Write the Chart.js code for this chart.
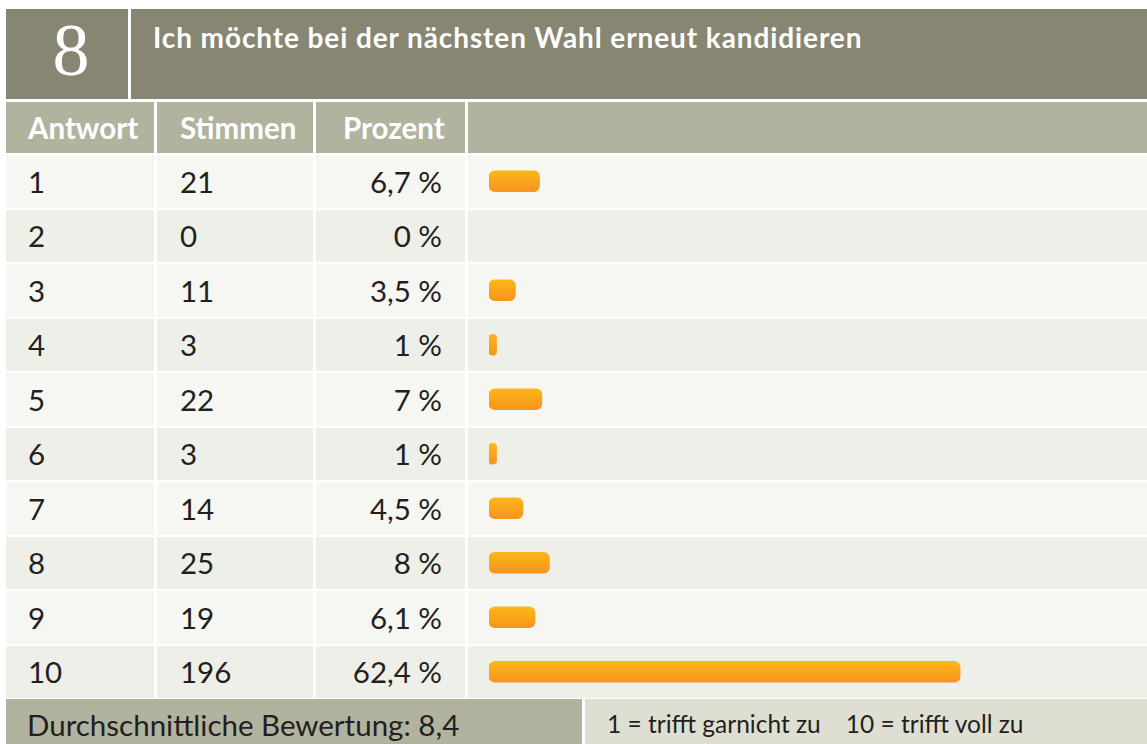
<!DOCTYPE html>
<html>
<head>
<meta charset="utf-8">
<script src="https://cdn.jsdelivr.net/npm/chart.js@4"></script>
<style>
  html, body { margin: 0; padding: 0; background: #ffffff; }
  body { width: 1147px; height: 744px; position: relative; overflow: hidden; font-family: "Lato", sans-serif; color: #231f20; }
  .box { position: absolute; box-sizing: border-box; white-space: pre; }
  .num { font-family: "Liberation Serif", "DejaVu Serif", serif; color: #fff; font-size: 74px; display: flex; align-items: center; justify-content: center; padding-left: 8px; padding-bottom: 8px; }
  .title { color: #fff; font-weight: bold; font-size: 28px; letter-spacing: 0.9px; padding-left: 22px; padding-top: 11px; }
  .hd { color: #fff; font-weight: bold; font-size: 29.5px; display: flex; align-items: center; }
  .cell { font-size: 29.5px; display: flex; align-items: center; }
  .foot { font-size: 29.5px; display: flex; align-items: center; }
  .foot2 { font-size: 24.5px; display: flex; align-items: center; }
  #chartWrap { position: absolute; left: 467px; top: 154px; width: 680px; height: 545px; z-index: 5; }
</style>
</head>
<body>
<div id="page"></div>
<div id="chartWrap"><canvas id="c"></canvas></div>
<script>
// ---- data ----
const questionNumber = "8";
const questionTitle = "Ich möchte bei der nächsten Wahl erneut kandidieren";
const columnHeaders = ["Antwort", "Stimmen", "Prozent"];
const answers = ["1", "2", "3", "4", "5", "6", "7", "8", "9", "10"];
const votes = [21, 0, 11, 3, 22, 3, 14, 25, 19, 196];
const percentLabels = ["6,7 %", "0 %", "3,5 %", "1 %", "7 %", "1 %", "4,5 %", "8 %", "6,1 %", "62,4 %"];
const percents = [6.7, 0, 3.5, 1, 7, 1, 4.5, 8, 6.1, 62.4];
const averageText = "Durchschnittliche Bewertung: 8,4";
const scaleNote = "1 = trifft garnicht zu    10 = trifft voll zu";

// ---- table layout ----
const page = document.getElementById('page');
function box(x, y, w, h, bg, cls, text, extra) {
  const d = document.createElement('div');
  d.className = 'box ' + (cls || '');
  d.style.left = x + 'px'; d.style.top = y + 'px';
  d.style.width = w + 'px'; d.style.height = h + 'px';
  if (bg) d.style.background = bg;
  if (text !== undefined) d.textContent = text;
  if (extra) Object.assign(d.style, extra);
  page.appendChild(d);
  return d;
}
const dark = '#878672', mid = '#b1b39f';
box(6, 9, 122, 90, dark, 'num', questionNumber);
box(131, 9, 1016, 90, dark, 'title', questionTitle);

const cols = [[6, 148], [157, 156], [316, 149], [468, 679]];
const hdrPad = [22, 23, 27];
box(cols[0][0], 102, cols[0][1], 51, mid, 'hd', columnHeaders[0], {paddingLeft: hdrPad[0] + 'px'});
box(cols[1][0], 102, cols[1][1], 51, mid, 'hd', columnHeaders[1], {paddingLeft: hdrPad[1] + 'px'});
box(cols[2][0], 102, cols[2][1], 51, mid, 'hd', columnHeaders[2], {paddingLeft: hdrPad[2] + 'px'});
box(cols[3][0], 102, cols[3][1], 51, mid, 'hd', '');

const rowTop = 155, pitch = 54.5, rowH = 52.5;
answers.forEach((a, i) => {
  const y = rowTop + i * pitch;
  const bg = i % 2 === 0 ? '#f6f6f3' : '#efefe9';
  box(cols[0][0], y, cols[0][1], rowH, bg, 'cell', a, {paddingLeft: '22px'});
  box(cols[1][0], y, cols[1][1], rowH, bg, 'cell', String(votes[i]), {paddingLeft: '23px'});
  box(cols[2][0], y, cols[2][1], rowH, bg, 'cell', percentLabels[i], {justifyContent: 'flex-end', paddingRight: '23px'});
  box(cols[3][0], y, cols[3][1], rowH, bg, 'cell', '');
});

box(6, 699, 576, 45, mid, 'foot', averageText, {paddingLeft: '21px', paddingTop: '6px'});
box(585, 699, 562, 45, '#dedfd2', 'foot2', scaleNote, {paddingLeft: '22px', paddingTop: '4px'});

// ---- bars ----
function barFill(ctx) {
  const chart = ctx.chart;
  if (ctx.dataIndex !== undefined && percents[ctx.dataIndex] === 0) return 'rgba(0,0,0,0)';
  const yScale = chart.scales && chart.scales.y;
  if (!yScale || ctx.dataIndex === undefined) return '#f9a51b';
  const cy = yScale.getPixelForValue(ctx.dataIndex);
  if (!isFinite(cy)) return '#f9a51b';
  const g = chart.ctx.createLinearGradient(0, cy - 10.5, 0, cy + 10.5);
  g.addColorStop(0, '#fdb719');
  g.addColorStop(1, '#f7931e');
  return g;
}

new Chart(document.getElementById('c'), {
  type: 'bar',
  data: {
    labels: answers,
    datasets: [{
      data: percents,
      backgroundColor: barFill,
      borderWidth: 0,
      borderRadius: 6,
      borderSkipped: false,
      barThickness: 21
    }]
  },
  options: {
    indexAxis: 'y',
    responsive: true,
    maintainAspectRatio: false,
    animation: false,
    layout: { padding: { left: 22, right: 54, top: 0, bottom: 0 } },
    plugins: { legend: { display: false }, tooltip: { enabled: false } },
    scales: {
      x: { display: false, min: 0, max: 80 },
      y: { display: false, offset: true }
    }
  }
});
</script>
</body>
</html>
